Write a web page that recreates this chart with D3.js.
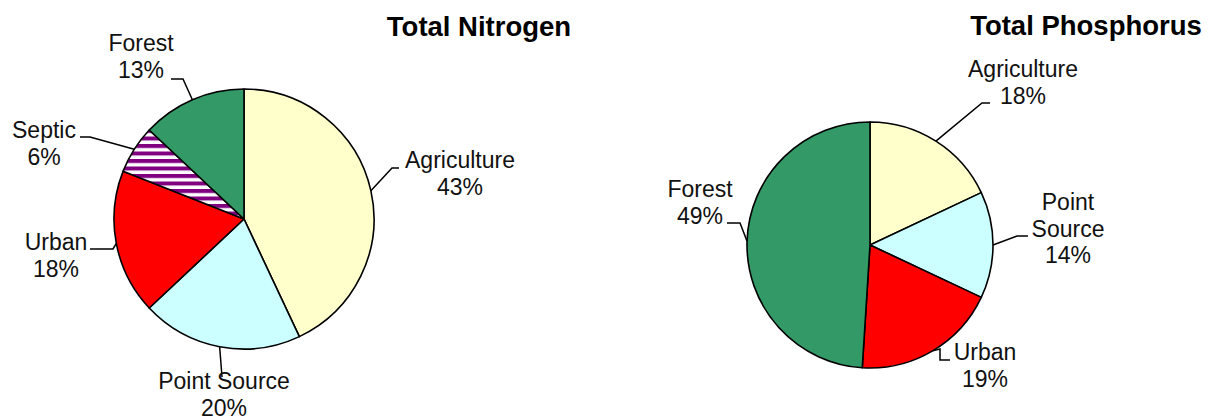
<!DOCTYPE html>
<html>
<head>
<meta charset="utf-8">
<script src="https://cdn.jsdelivr.net/npm/d3@7"></script>
<style>
  html, body { margin: 0; padding: 0; background: #fff; }
  svg { display: block; font-family: "Liberation Sans", Arial, sans-serif; }
  .title { font-size: 27.5px; font-weight: bold; fill: #000; }
  .label { font-size: 23px; fill: #111; }
</style>
</head>
<body>
<div id="chart"></div>
<script>
// data
const nitrogenCategories = ['Agriculture', 'Point Source', 'Urban', 'Septic', 'Forest'];
const nitrogenValues = [43, 20, 18, 6, 13];
const phosphorusCategories = ['Agriculture', 'Point Source', 'Urban', 'Forest'];
const phosphorusValues = [18, 14, 19, 49];

const fills = {
  'Agriculture': '#FFFFCC',
  'Point Source': '#CCFFFF',
  'Urban': '#FF0000',
  'Septic': 'url(#septicStripes)',
  'Forest': '#339966'
};

const width = 1209, height = 420;

const svg = d3.select('#chart')
  .append('svg')
  .attr('width', width)
  .attr('height', height);

// purple / white wide horizontal stripes for Septic
const pat = svg.append('defs').append('pattern')
  .attr('id', 'septicStripes')
  .attr('patternUnits', 'userSpaceOnUse')
  .attr('width', 8)
  .attr('height', 7.5);
pat.append('rect').attr('width', 8).attr('height', 7.5).attr('fill', '#fff');
pat.append('rect').attr('width', 8).attr('height', 4).attr('fill', '#800080');

// label placement (relative to pie centre), Excel style
const nitrogenLabels = {
  'Agriculture':  { lines: ['Agriculture'], tx: 216, ty: -51, leader: [[148, -51], [155, -51]] },
  'Point Source': { lines: ['Point Source'], tx: -20, ty: 170, leader: [[-22, 158]] },
  'Urban':        { lines: ['Urban'], tx: -188, ty: 31, leader: [[-131, 30], [-154, 30]] },
  'Septic':       { lines: ['Septic'], tx: -200, ty: -81, leader: [[-154, -82], [-164, -82]] },
  'Forest':       { lines: ['Forest'], tx: -103, ty: -168, leader: [[-61, -140], [-73, -140]] }
};
const phosphorusLabels = {
  'Agriculture':  { lines: ['Agriculture'], tx: 153, ty: -168, leader: [[112, -142], [120, -142]] },
  'Point Source': { lines: ['Point', 'Source'], tx: 198, ty: -35, leader: [[147, -9], [158, -9]] },
  'Urban':        { lines: ['Urban'], tx: 115, ty: 115, leader: [[70, 104], [70, 115], [80, 115]] },
  'Forest':       { lines: ['Forest'], tx: -170, ty: -48, leader: [[-130, -22], [-143, -22]] }
};

function drawPie(opts) {
  const g = svg.append('g')
    .attr('transform', `translate(${opts.cx},${opts.cy})`);

  const pie = d3.pie().sort(null).value(d => d.value);
  const arc = d3.arc().innerRadius(0).outerRadius(opts.r);
  const edge = d3.arc().innerRadius(opts.r).outerRadius(opts.r);

  const data = opts.categories.map((c, i) => ({ name: c, value: opts.values[i] }));
  const arcs = pie(data);

  g.selectAll('path.slice')
    .data(arcs)
    .enter()
    .append('path')
    .attr('class', 'slice')
    .attr('d', arc)
    .attr('fill', d => fills[d.data.name])
    .attr('stroke', '#000')
    .attr('stroke-width', 1.6)
    .attr('stroke-linejoin', 'round');

  // leader lines
  const line = d3.line();
  g.selectAll('path.leader')
    .data(arcs)
    .enter()
    .append('path')
    .attr('class', 'leader')
    .attr('d', d => line([edge.centroid(d)].concat(opts.labels[d.data.name].leader)))
    .attr('fill', 'none')
    .attr('stroke', '#000')
    .attr('stroke-width', 1.5);

  // labels
  const lab = g.selectAll('text.label')
    .data(arcs)
    .enter()
    .append('text')
    .attr('class', 'label')
    .attr('text-anchor', 'middle');
  lab.each(function (d) {
    const L = opts.labels[d.data.name];
    const t = d3.select(this);
    const lines = L.lines.concat([`${d.data.value}%`]);
    lines.forEach((s, i) => {
      t.append('tspan')
        .attr('x', L.tx)
        .attr('y', L.ty + i * 26.5)
        .text(s);
    });
  });

  svg.append('text')
    .attr('class', 'title')
    .attr('x', opts.titleX)
    .attr('y', opts.titleY)
    .attr('text-anchor', 'middle')
    .text(opts.title);
}

drawPie({
  cx: 244, cy: 219, r: 130,
  categories: nitrogenCategories, values: nitrogenValues,
  labels: nitrogenLabels,
  title: 'Total Nitrogen', titleX: 479, titleY: 36
});

drawPie({
  cx: 870, cy: 245, r: 123,
  categories: phosphorusCategories, values: phosphorusValues,
  labels: phosphorusLabels,
  title: 'Total Phosphorus', titleX: 1086, titleY: 35
});
</script>
</body>
</html>
